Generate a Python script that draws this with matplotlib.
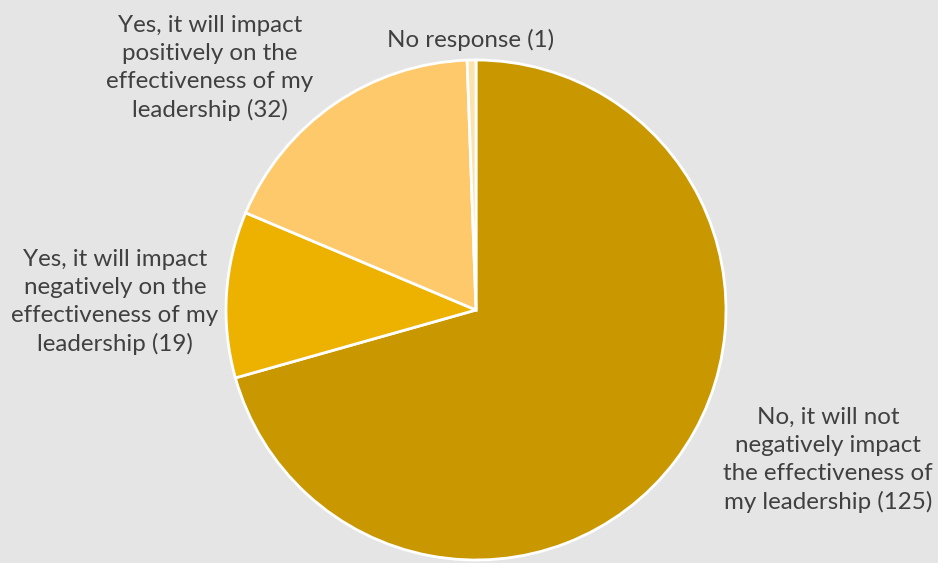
import matplotlib.pyplot as plt

# survey responses, clockwise from 12 o'clock
labels = ['No, it will not\nnegatively impact\nthe effectiveness of\nmy leadership (125)',
          'Yes, it will impact\nnegatively on the\neffectiveness of my\nleadership (19)',
          'Yes, it will impact\npositively on the\neffectiveness of my\nleadership (32)',
          'No response (1)']
counts = [125, 19, 32, 1]
colors = ['#C99700', '#EDB200', '#FEC96B', '#FCE3AE']

W, H = 938, 563
fig = plt.figure(figsize=(W / 100, H / 100), dpi=100)
fig.patch.set_facecolor('#E5E5E5')
ax = fig.add_axes([0, 0, 1, 1])

ax.pie(counts, colors=colors, startangle=90, counterclock=False,
       center=(476, H - 310), radius=250, frame=True,
       wedgeprops=dict(edgecolor='white', linewidth=2))
ax.axis('off')
ax.set_xlim(0, W)
ax.set_ylim(0, H)
ax.set_aspect('equal')

# label positions (pixels from top-left)
label_pos = [(828, 460), (115, 302), (210, 68), (471, 40)]
for txt, (x, y) in zip(labels, label_pos):
    ax.text(x, H - y, txt, ha='center', va='center', fontsize=17.4,
            family='Lato', color='#404040', linespacing=1.4)

fig.savefig('out.png', dpi=100, facecolor=fig.get_facecolor())
